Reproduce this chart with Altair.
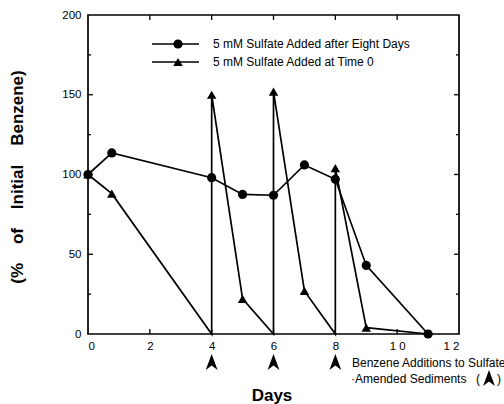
import altair as alt
import pandas as pd

# Data
circle_days = [0, 0.77, 4, 5, 6, 7, 8, 9, 11]
circle_vals = [100, 113.5, 98, 87.5, 87, 106, 97, 43, 0]

tri_days = [0, 0.77, 4, 4, 5, 6, 6, 7, 8, 8, 9, 11]
tri_vals = [100, 88, 0, 150, 22, 0, 152, 27, 0, 104, 4, 0]
tri_marker = [True, True, False, True, True, False, True, True, False, True, True, False]

addition_days = [4, 6, 8]
x_major = [0, 2, 4, 6, 8, 10, 12]
y_major = [0, 50, 100, 150, 200]
y_minor = [25, 75, 125, 175]

legend_labels = ["5 mM Sulfate Added after Eight Days", "5 mM Sulfate Added at Time 0"]

W, H = 371, 319
FONT = "Liberation Sans"
NB = "\u00a0"

circ = pd.DataFrame({"day": circle_days, "val": circle_vals, "i": range(len(circle_days))})
tri = pd.DataFrame({"day": tri_days, "val": tri_vals, "i": range(len(tri_days)), "m": tri_marker})

xs = alt.Scale(domain=[0, 12], nice=False)
ys = alt.Scale(domain=[0, 200], nice=False)

X = alt.X("day:Q", scale=xs, axis=alt.Axis(
    values=x_major, title=None, grid=False, ticks=False, domain=False,
    labelFont=FONT, labelFontSize=11.5, labelColor="black", labelPadding=6,
    labelExpr="datum.value >= 10 ? replace(datum.label, /(\\d)(\\d)/, '$1\u00a0$2') : datum.label"))
Y = alt.Y("val:Q", scale=ys, axis=alt.Axis(
    values=y_major, title=None, grid=False, ticks=False, domain=False,
    labelFont=FONT, labelFontSize=11.5, labelColor="black", labelPadding=7))

base_c = alt.Chart(circ)
line_c = base_c.mark_line(color="black", strokeWidth=1.7).encode(x=X, y=Y, order="i:Q")
pts_c = base_c.mark_point(shape="circle", filled=True, color="black", size=85, opacity=1).encode(
    x=alt.X("day:Q", scale=xs), y=alt.Y("val:Q", scale=ys))

base_t = alt.Chart(tri)
line_t = base_t.mark_line(color="black", strokeWidth=1.7).encode(
    x=alt.X("day:Q", scale=xs), y=alt.Y("val:Q", scale=ys), order="i:Q")
pts_t = base_t.transform_filter("datum.m").mark_point(
    shape="triangle-up", filled=True, color="black", size=90, opacity=1).encode(
    x=alt.X("day:Q", scale=xs), y=alt.Y("val:Q", scale=ys))

# frame
frame = alt.Chart(pd.DataFrame({"a": [0]})).mark_rect(
    fill=None, stroke="black", strokeWidth=1.7).encode(
    x=alt.value(0), x2=alt.value(W), y=alt.value(0), y2=alt.value(H))

# inward ticks
xt = pd.DataFrame({"day": x_major[1:-1]})
xt_bot = alt.Chart(xt).mark_rule(color="black", strokeWidth=1.3).encode(
    x=alt.X("day:Q", scale=xs), y=alt.value(H), y2=alt.value(H - 5))
xt_top = alt.Chart(xt).mark_rule(color="black", strokeWidth=1.3).encode(
    x=alt.X("day:Q", scale=xs), y=alt.value(0), y2=alt.value(5))
ym = pd.DataFrame({"val": y_major[1:-1]})
yn = pd.DataFrame({"val": y_minor})
yt_l = alt.Chart(ym).mark_rule(color="black", strokeWidth=1.3).encode(
    y=alt.Y("val:Q", scale=ys), x=alt.value(0), x2=alt.value(5))
yt_r = alt.Chart(ym).mark_rule(color="black", strokeWidth=1.3).encode(
    y=alt.Y("val:Q", scale=ys), x=alt.value(W), x2=alt.value(W - 5))
yn_l = alt.Chart(yn).mark_rule(color="black", strokeWidth=1.3).encode(
    y=alt.Y("val:Q", scale=ys), x=alt.value(0), x2=alt.value(3))
yn_r = alt.Chart(yn).mark_rule(color="black", strokeWidth=1.3).encode(
    y=alt.Y("val:Q", scale=ys), x=alt.value(W), x2=alt.value(W - 3))

# legend
leg = []
for k, (lab, shp) in enumerate(zip(legend_labels, ["circle", "triangle-up"])):
    yy = 29 + 18 * k
    d = pd.DataFrame({"t": [lab]})
    leg.append(alt.Chart(d).mark_rule(color="black", strokeWidth=1.7).encode(
        x=alt.value(64), x2=alt.value(111), y=alt.value(yy)))
    leg.append(alt.Chart(d).mark_point(shape=shp, filled=True, color="black",
                                       size=85 if shp == "circle" else 90, opacity=1).encode(
        x=alt.value(90), y=alt.value(yy)))
    leg.append(alt.Chart(d).mark_text(align="left", baseline="middle", font=FONT,
                                      fontSize=12, color="black").encode(
        x=alt.value(125), y=alt.value(yy), text="t:N"))

# arrowheads for benzene additions
ARROW = "M0,-1 L0.75,1 L0,0.45 L-0.75,1 Z"
arrows = alt.Chart(pd.DataFrame({"day": addition_days})).mark_point(
    shape=ARROW, filled=True, color="black", size=250, opacity=1).encode(
    x=alt.X("day:Q", scale=xs), y=alt.value(H + 28))

ann1 = alt.Chart(pd.DataFrame({"t": ["Benzene Additions to Sulfate"]})).mark_text(
    align="left", baseline="middle", font=FONT, fontSize=12, color="black").encode(
    x=alt.value(264), y=alt.value(H + 29), text="t:N")
ann2 = alt.Chart(pd.DataFrame({"t": ["·Amended Sediments"]})).mark_text(
    align="left", baseline="middle", font=FONT, fontSize=12, color="black").encode(
    x=alt.value(263), y=alt.value(H + 45), text="t:N")
paren_l = alt.Chart(pd.DataFrame({"t": ["("]})).mark_text(
    align="center", baseline="middle", font=FONT, fontSize=12, color="black").encode(
    x=alt.value(390), y=alt.value(H + 45), text="t:N")
paren_r = alt.Chart(pd.DataFrame({"t": [")"]})).mark_text(
    align="center", baseline="middle", font=FONT, fontSize=12, color="black").encode(
    x=alt.value(411), y=alt.value(H + 45), text="t:N")
arrow2 = alt.Chart(pd.DataFrame({"a": [0]})).mark_point(
    shape=ARROW, filled=True, color="black", size=250, opacity=1).encode(
    x=alt.value(401), y=alt.value(H + 44))

xtitle = alt.Chart(pd.DataFrame({"t": ["Days"]})).mark_text(
    align="center", baseline="middle", font=FONT, fontSize=17, fontWeight="bold", color="black").encode(
    x=alt.value(184), y=alt.value(H + 62), text="t:N")
ytitle = alt.Chart(pd.DataFrame({"t": ["(%" + NB * 4 + "of" + NB * 4 + "Initial" + NB * 4 + "Benzene)"]})).mark_text(
    align="center", baseline="middle", font=FONT, fontSize=17, fontWeight="bold", color="black",
    angle=270).encode(x=alt.value(-70), y=alt.value(162), text="t:N")

chart = alt.layer(
    line_c, line_t, pts_c, pts_t, frame, xt_bot, xt_top, yt_l, yt_r, yn_l, yn_r,
    *leg, arrows, ann1, ann2, paren_l, paren_r, arrow2, xtitle, ytitle
).properties(
    width=W, height=H,
    autosize=alt.AutoSizeParams(type="none"),
    padding={"left": 88, "top": 15, "right": 45, "bottom": 70},
    background="white",
).configure_view(stroke=None)

chart.save("out.html", embed_options={"renderer": "svg", "actions": False})
